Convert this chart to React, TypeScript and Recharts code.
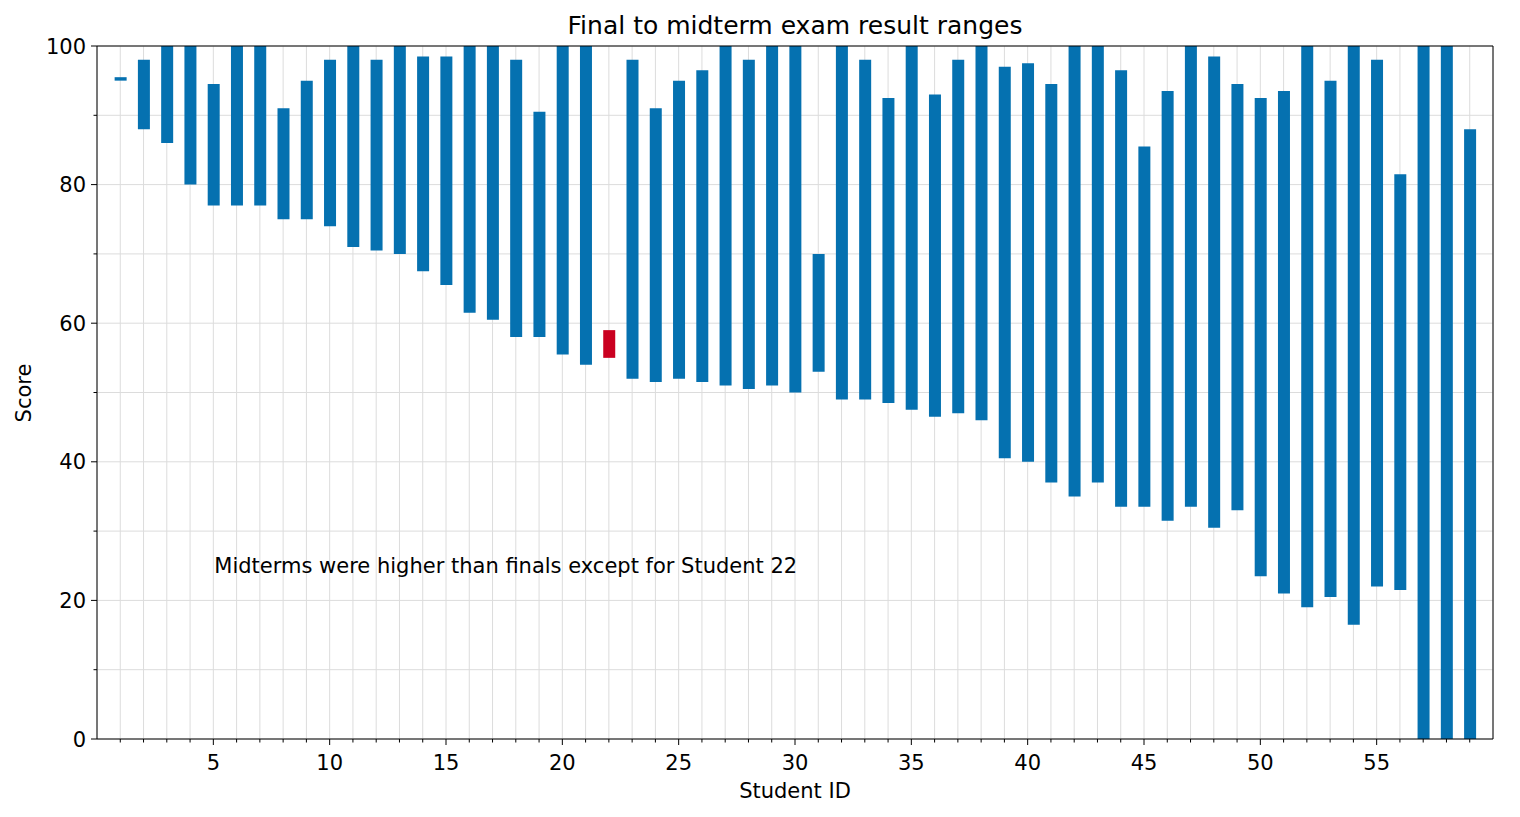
import React from 'react';
import { BarChart, Bar, XAxis, YAxis, CartesianGrid, Cell, ReferenceLine, ReferenceDot } from 'recharts';

const studentIds = [
  1, 2, 3, 4, 5, 6, 7, 8, 9, 10, 11, 12, 13, 14, 15, 16, 17, 18, 19, 20,
  21, 22, 23, 24, 25, 26, 27, 28, 29, 30, 31, 32, 33, 34, 35, 36, 37, 38, 39, 40,
  41, 42, 43, 44, 45, 46, 47, 48, 49, 50, 51, 52, 53, 54, 55, 56, 57, 58, 59,
];

// lower and upper end of each student's final/midterm range
const lows = [
  95, 88, 86, 80, 77, 77, 77, 75, 75, 74,
  71, 70.5, 70, 67.5, 65.5, 61.5, 60.5, 58, 58, 55.5,
  54, 55, 52, 51.5, 52, 51.5, 51, 50.5, 51, 50,
  53, 49, 49, 48.5, 47.5, 46.5, 47, 46, 40.5, 40,
  37, 35, 37, 33.5, 33.5, 31.5, 33.5, 30.5, 33, 23.5,
  21, 19, 20.5, 16.5, 22, 21.5, 0, 0, 0,
];
const highs = [
  95.5, 98, 100, 100, 94.5, 100, 100, 91, 95, 98,
  100, 98, 100, 98.5, 98.5, 100, 100, 98, 90.5, 100,
  100, 59, 98, 91, 95, 96.5, 100, 98, 100, 100,
  70, 100, 98, 92.5, 100, 93, 98, 100, 97, 97.5,
  94.5, 100, 100, 96.5, 85.5, 93.5, 100, 98.5, 94.5, 92.5,
  93.5, 100, 95, 100, 98, 81.5, 100, 100, 88,
];
const exceptionIds = [22];

const xTicks = [
  1, 2, 3, 4, 5, 6, 7, 8, 9, 10, 11, 12, 13, 14, 15, 16, 17, 18, 19, 20,
  21, 22, 23, 24, 25, 26, 27, 28, 29, 30, 31, 32, 33, 34, 35, 36, 37, 38, 39, 40,
  41, 42, 43, 44, 45, 46, 47, 48, 49, 50, 51, 52, 53, 54, 55, 56, 57, 58, 59,
];
const yTicks = [0, 10, 20, 30, 40, 50, 60, 70, 80, 90, 100];

const BLUE = '#0571b0';
const RED = '#ca0020';
const FONT = '"DejaVu Sans", sans-serif';
const FS = 21;

const data = studentIds.map((id, i) => ({ id, range: [lows[i], highs[i]] }));

const XTick = (props: any) => {
  const { x, y, payload } = props;
  const major = payload.value % 5 === 0;
  return (
    <g>
      <line x1={x} x2={x} y1={y} y2={y + (major ? 6 : 3.5)} stroke="#000" strokeWidth={1} />
      {major && (
        <text x={x} y={y + 31} textAnchor="middle" fontSize={FS} fill="#000" fontFamily={FONT}>
          {payload.value}
        </text>
      )}
    </g>
  );
};

const YTick = (props: any) => {
  const { x, y, payload } = props;
  const major = payload.value % 20 === 0;
  return (
    <g>
      <line x1={x - (major ? 6 : 3.5)} x2={x} y1={y} y2={y} stroke="#000" strokeWidth={1} />
      {major && (
        <text x={x - 11} y={y} dy="0.36em" textAnchor="end" fontSize={FS} fill="#000" fontFamily={FONT}>
          {payload.value}
        </text>
      )}
    </g>
  );
};

export default function App() {
  return (
    <div style={{ position: 'fixed', left: 0, top: 0, width: 1520, height: 817, background: '#fff', fontFamily: FONT }}>
      <BarChart
        width={1520}
        height={817}
        data={data}
        margin={{ top: 46, right: 27, bottom: 0, left: 0 }}
        style={{ fontFamily: FONT }}
      >
        <CartesianGrid stroke="#dcdcdc" strokeWidth={1} />
        <XAxis
          dataKey="id"
          type="number"
          domain={[0, 60]}
          ticks={xTicks}
          interval={0}
          height={78}
          tickSize={0}
          tickMargin={0}
          tick={<XTick />}
          axisLine={{ stroke: '#000', strokeWidth: 1 }}
          allowDataOverflow
        />
        <YAxis
          type="number"
          domain={[0, 100]}
          ticks={yTicks}
          interval={0}
          width={97}
          tickSize={0}
          tickMargin={0}
          tick={<YTick />}
          axisLine={{ stroke: '#000', strokeWidth: 1 }}
          allowDataOverflow
        />
        <Bar dataKey="range" barSize={12} isAnimationActive={false}>
          {data.map((d) => (
            <Cell key={d.id} fill={exceptionIds.includes(d.id) ? RED : BLUE} />
          ))}
        </Bar>
        <ReferenceLine y={100} stroke="#000" strokeWidth={1} />
        <ReferenceLine x={60} stroke="#000" strokeWidth={1} />
        <ReferenceDot
          x={5}
          y={25}
          r={1}
          fill="none"
          stroke="none"
          label={{
            value: 'Midterms were higher than finals except for Student 22',
            position: 'right',
            offset: 0,
            fontSize: FS,
            fill: '#000',
          }}
        />
        <text x={795} y={34} textAnchor="middle" fontSize={25} fill="#000" fontFamily={FONT}>
          Final to midterm exam result ranges
        </text>
        <text x={795} y={798} textAnchor="middle" fontSize={FS} fill="#000" fontFamily={FONT}>
          Student ID
        </text>
        <text
          x={24}
          y={393}
          textAnchor="middle"
          dominantBaseline="central"
          transform="rotate(-90, 24, 393)"
          fontSize={FS}
          fill="#000"
          fontFamily={FONT}
        >
          Score
        </text>
      </BarChart>
    </div>
  );
}
